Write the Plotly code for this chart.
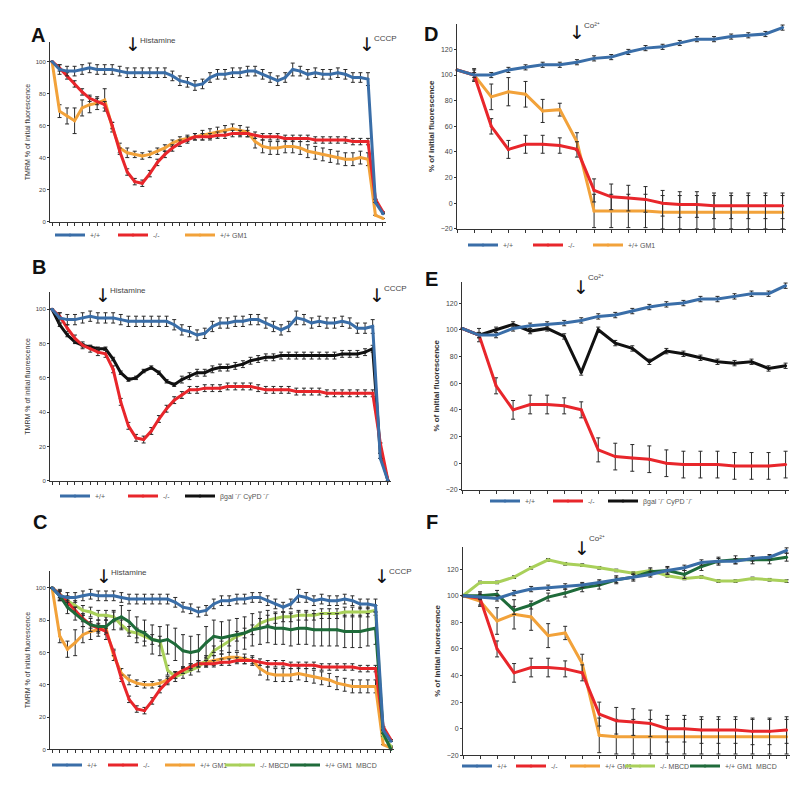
import plotly.graph_objects as go

# page has an 8px body margin: figure is drawn at (8, 8)
OFF = 8
W, H = 800 - 2 * OFF, 795 - 2 * OFF

# ---------------- DATA ----------------
# Panels A-C: TMRM time course (45 time points)
idx45 = list(range(45))
wt_A = [100, 95, 94, 94, 95, 96, 95, 95, 95, 94, 93, 93, 93, 93, 93, 93, 91, 88, 87, 85, 86, 90, 92, 92,
        93, 93, 94, 94, 92, 90, 88, 90, 95, 94, 92, 93, 92, 92, 93, 92, 90, 90, 89, 12, 5]
ko_A = [100, 96, 91, 86, 81, 77, 75, 73, 60, 44, 31, 25, 24, 30, 37, 42, 46, 49, 51, 53, 53, 53, 54, 54,
        55, 55, 55, 54, 53, 53, 53, 52, 52, 52, 52, 51, 51, 51, 51, 51, 50, 50, 50, 14, 6]
gm1_A = [100, 69, 66, 63, 71, 73, 74, 76, 59, 46, 43, 42, 41, 42, 44, 46, 49, 51, 52, 53, 54, 55, 56, 57,
         58, 57, 56, 50, 47, 46, 46, 47, 47, 46, 44, 43, 42, 41, 40, 39, 39, 40, 39, 4, 2]
wt_err = [0, 3, 3, 3, 3, 3, 3, 3, 3, 3, 3, 3, 3, 3, 3, 3, 3, 3, 3, 3, 3, 3, 3, 3,
          3, 3, 3, 3, 3, 3, 3, 3, 4, 3, 3, 3, 3, 3, 3, 3, 3, 3, 4, 0, 0]
ko_err = [0, 2, 2, 2, 2, 2, 2, 2, 2, 2, 2, 2, 2, 2, 2, 2, 2, 2, 2, 2, 2, 2, 2, 2,
          2, 2, 2, 2, 2, 2, 2, 2, 2, 2, 2, 2, 2, 2, 2, 2, 2, 2, 2, 0, 0]
gm1_err = [0, 4, 5, 8, 5, 5, 4, 7, 3, 3, 3, 2, 2, 2, 2, 2, 2, 2, 2, 2, 3, 3, 3, 3,
           3, 3, 3, 4, 4, 4, 4, 4, 4, 4, 4, 4, 4, 4, 4, 4, 4, 4, 4, 0, 0]

wt_B = [100, 95, 94, 94, 95, 96, 95, 95, 95, 94, 93, 93, 93, 93, 93, 93, 91, 88, 87, 85, 86, 90, 92, 92,
        93, 93, 94, 94, 92, 90, 88, 90, 95, 94, 92, 93, 92, 92, 93, 92, 89, 89, 90, 13, 0]
ko_B = [100, 96, 89, 83, 79, 77, 75, 74, 65, 46, 32, 25, 24, 29, 36, 42, 47, 50, 53, 53, 54, 54, 54, 55,
        55, 55, 55, 54, 53, 53, 53, 53, 52, 52, 52, 52, 51, 51, 51, 51, 51, 51, 51, 22, 0]
dko_B = [100, 91, 85, 81, 79, 78, 77, 77, 71, 63, 59, 60, 64, 66, 63, 58, 56, 59, 61, 63, 63, 65, 66, 66,
         67, 68, 70, 71, 72, 72, 73, 73, 73, 73, 73, 73, 73, 73, 74, 74, 74, 75, 77, 16, 0]
dko_err = [0, 1, 1, 1, 1, 1, 1, 1, 1, 1, 1, 1, 1, 1, 1, 1, 1, 2, 2, 2, 2, 2, 2, 2,
           2, 2, 2, 2, 2, 2, 2, 2, 2, 2, 2, 2, 2, 2, 2, 2, 2, 2, 2, 0, 0]

gm1_C = [100, 70, 62, 66, 71, 73, 74, 75, 58, 47, 43, 41, 40, 40, 41, 43, 46, 49, 51, 53, 54, 55, 56, 57,
         57, 56, 55, 50, 47, 46, 46, 46, 47, 46, 45, 44, 43, 41, 40, 39, 39, 39, 39, 3, 1]
mbcd_ko_C = [100, 96, 92, 89, 86, 85, 83, 83, 82, 77, 73, 72, 70, 68, 67, 49, 45, 47, 49, 51, 55, 61, 64, 67,
             70, 72, 74, 78, 80, 81, 82, 82, 83, 83, 83, 84, 84, 84, 85, 85, 85, 85, 86, 8, 2]
mbcd_gm1_C = [100, 95, 88, 84, 80, 77, 76, 76, 80, 82, 79, 74, 72, 68, 67, 68, 65, 61, 60, 61, 66, 70, 69, 70,
              71, 72, 74, 75, 76, 75, 75, 74, 75, 75, 74, 74, 74, 74, 73, 73, 73, 74, 75, 10, 0]
mbcd_ko_err = [0, 3, 3, 3, 3, 3, 3, 3, 3, 3, 3, 3, 3, 3, 3, 3, 3, 3, 3, 3, 3, 3, 3, 3,
               3, 3, 3, 3, 3, 3, 3, 3, 3, 3, 3, 3, 3, 3, 3, 3, 3, 3, 3, 0, 0]
mbcd_gm1_err = [0, 3, 4, 4, 4, 4, 4, 4, 6, 7, 7, 8, 8, 9, 9, 9, 10, 10, 10, 10, 10, 10, 10, 10,
                10, 10, 10, 10, 10, 10, 10, 10, 10, 10, 10, 10, 10, 10, 10, 10, 10, 10, 10, 0, 0]

# Panels D-F: Co2+ quench (20 time points)
idx20 = list(range(20))
wt_D = [104, 100, 100, 104, 106, 108, 108, 110, 113, 114, 118, 121, 122, 125, 128, 128, 130, 131, 132, 137]
ko_D = [104, 100, 60, 42, 46, 46, 45, 42, 10, 5, 4, 3, 0, -1, -1, -2, -2, -2, -2, -2]
gm1_D = [104, 100, 83, 87, 85, 72, 73, 48, -6, -6, -6, -6, -7, -7, -7, -7, -7, -7, -7, -7]
wt_D_err = [0, 2, 2, 2, 2, 2, 2, 2, 2, 2, 2, 2, 2, 2, 2, 2, 2, 2, 2, 2]
ko_D_err = [0, 5, 6, 7, 7, 7, 6, 6, 9, 10, 10, 10, 10, 10, 10, 10, 10, 10, 10, 10]
gm1_D_err = [0, 4, 10, 11, 10, 9, 5, 7, 13, 13, 13, 13, 13, 13, 13, 13, 13, 13, 13, 13]

wt_E = [101, 96, 96, 101, 103, 104, 105, 107, 110, 111, 114, 117, 119, 120, 123, 123, 125, 127, 127, 133]
ko_E = [101, 96, 58, 40, 44, 44, 43, 40, 10, 5, 4, 3, 0, -1, -1, -1, -2, -2, -2, -1]
dko_E = [101, 96, 100, 104, 99, 101, 95, 68, 100, 90, 86, 76, 84, 82, 79, 76, 75, 76, 71, 73]
dko_E_err = [0, 2, 2, 2, 2, 2, 2, 2, 2, 2, 2, 2, 2, 2, 2, 2, 2, 2, 2, 2]

wt_F = [100, 99, 98, 102, 105, 106, 107, 108, 110, 112, 114, 116, 119, 121, 125, 126, 126, 128, 129, 134]
ko_F = [100, 98, 60, 42, 46, 46, 45, 42, 11, 6, 5, 4, 0, 0, -1, -1, -1, -2, -2, -1]
gm1_F = [100, 96, 81, 86, 84, 70, 72, 49, -5, -6, -6, -6, -6, -6, -6, -6, -6, -6, -6, -6]
mbcd_ko_F = [100, 110, 110, 114, 121, 127, 124, 123, 121, 119, 117, 119, 115, 113, 114, 111, 111, 113, 112, 111]
mbcd_gm1_F = [100, 100, 101, 89, 93, 99, 102, 106, 108, 112, 114, 118, 119, 116, 122, 126, 127, 127, 127, 129]
small_err20 = [0, 1, 1, 1, 1, 1, 1, 1, 1, 1, 1, 1, 1, 1, 1, 1, 1, 1, 1, 1]
mid_err20 = [0, 2, 3, 3, 3, 3, 3, 3, 3, 3, 3, 3, 3, 3, 3, 3, 3, 3, 3, 3]

ticks_ABC = [0, 20, 40, 60, 80, 100]
ticks_DEF = [-20, 0, 20, 40, 60, 80, 100, 120]

# ---------------- STYLE ----------------
BLUE = "#3A6EA8"
RED = "#E8262B"
ORANGE = "#F2A23A"
LGREEN = "#A9D05A"
DGREEN = "#1F6B3A"
BLACK = "#111111"
ERR = "#2a2a2a"
FONT = "Liberation Sans, Arial, sans-serif"


def px_x(p):
    return (p - OFF) / W


def px_y(p):
    return 1 - (p - OFF) / H


def ydomain(px_zero, px_per_unit, rng):
    bottom = px_zero + (0 - rng[0]) * px_per_unit
    top = px_zero - rng[1] * px_per_unit
    return [px_y(bottom), px_y(top)]


def xdomain(p0, p1):
    return [px_x(p0), px_x(p1)]


panels = {
    # (x domain px, x range, y zero px, px per unit, y range) in reference page pixels
    1: ((50, 386), [-0.27, 44.4], 222.5, 1.608, [0, 112]),      # A
    2: ((50, 391), [-0.27, 44.4], 482.5, 1.72, [0, 110]),       # B
    3: ((50, 394), [-0.27, 44.4], 752.3, 1.623, [0, 110.5]),    # C
    4: ((457, 786), [0, 19.2], 204.0, 1.287, [-20, 140]),       # D
    5: ((462, 789), [0, 19.2], 465.0, 1.34, [-20, 136]),        # E
    6: ((463, 790), [0, 19.2], 731.5, 1.335, [-20, 137]),       # F
}

fig = go.Figure()


def add(p, x, y, err, color, name, lw_legend, rank):
    sfx = "" if p == 1 else str(p)
    fig.add_trace(go.Scatter(
        x=x, y=y, mode="lines+markers", name=name,
        line=dict(color=color, width=3),
        marker=dict(size=3, color=color),
        error_y=dict(type="data", array=err, color=ERR, thickness=1, width=2),
        xaxis="x" + sfx, yaxis="y" + sfx,
        legend="legend" + sfx, legendwidth=lw_legend, legendrank=rank,
        cliponaxis=False,
    ))


BGAL = "βgal ⁻/⁻ CyPD ⁻/⁻"
# A
add(1, idx45, gm1_A, gm1_err, ORANGE, "+/+ GM1", 30, 3)
add(1, idx45, ko_A, ko_err, RED, "-/-", 22, 2)
add(1, idx45, wt_A, wt_err, BLUE, "+/+", 18, 1)
# B
add(2, idx45, dko_B, dko_err, BLACK, BGAL, 60, 3)
add(2, idx45, ko_B, ko_err, RED, "-/-", 12, 2)
add(2, idx45, wt_B, wt_err, BLUE, "+/+", 23, 1)
# C
add(3, idx45, gm1_C, gm1_err, ORANGE, "+/+ GM1", 15, 3)
add(3, idx45, mbcd_ko_C, mbcd_ko_err, LGREEN, "-/- MBCD", 20, 4)
add(3, idx45, ko_A, ko_err, RED, "-/-", 12, 2)
add(3, idx45, mbcd_gm1_C, mbcd_gm1_err, DGREEN, "+/+ GM1  MBCD", 60, 5)
add(3, idx45, wt_A, wt_err, BLUE, "+/+", 11, 1)
# D
add(4, idx20, gm1_D, gm1_D_err, ORANGE, "+/+ GM1", 30, 3)
add(4, idx20, ko_D, ko_D_err, RED, "-/-", 15, 2)
add(4, idx20, wt_D, wt_D_err, BLUE, "+/+", 20, 1)
# E
add(5, idx20, dko_E, dko_E_err, BLACK, BGAL, 60, 3)
add(5, idx20, ko_E, ko_D_err, RED, "-/-", 10, 2)
add(5, idx20, wt_E, wt_D_err, BLUE, "+/+", 18, 1)
# F
add(6, idx20, gm1_F, gm1_D_err, ORANGE, "+/+ GM1", 10, 3)
add(6, idx20, ko_F, ko_D_err, RED, "-/-", 9, 2)
add(6, idx20, mbcd_ko_F, small_err20, LGREEN, "-/- MBCD", 20, 4)
add(6, idx20, mbcd_gm1_F, mid_err20, DGREEN, "+/+ GM1  MBCD", 60, 5)
add(6, idx20, wt_F, wt_D_err, BLUE, "+/+", 9, 1)

layout = dict(
    width=W, height=H, margin=dict(l=0, r=0, t=0, b=0),
    paper_bgcolor="white", plot_bgcolor="white",
    font=dict(family=FONT, color="#333"),
    showlegend=True,
)

# legend left edge / centre line, reference pixels
legend_pos = {1: (50, 236), 2: (55, 498), 3: (47, 768), 4: (463, 246), 5: (485, 503), 6: (457, 769)}

for p, (xd, xr, y0, ppu, yr) in panels.items():
    sfx = "" if p == 1 else str(p)
    is_left = p <= 3
    layout["xaxis" + sfx] = dict(
        domain=xdomain(*xd), range=xr, anchor="y" + sfx,
        showline=True, linecolor="#333", linewidth=1,
        ticks="outside", ticklen=3, tickcolor="#333", tickwidth=1,
        tick0=0, dtick=1, showticklabels=False, showgrid=False, zeroline=False,
    )
    layout["yaxis" + sfx] = dict(
        domain=ydomain(y0, ppu, yr), range=yr, anchor="x" + sfx,
        showline=True, linecolor="#333", linewidth=1,
        ticks="outside", ticklen=2, tickcolor="#333",
        tickvals=ticks_ABC if is_left else ticks_DEF,
        tickfont=dict(size=6 if is_left else 7, color="#444"),
        showgrid=False, zeroline=False,
        title=dict(
            text="TMRM % of initial fluorescence" if is_left else "<b>% of initial fluorescence</b>",
            font=dict(size=7 if is_left else 8, color="#333"), standoff=4),
    )
    lx, ly = legend_pos[p]
    layout["legend" + sfx] = dict(
        orientation="h", x=px_x(lx), y=px_y(ly), xanchor="left", yanchor="middle",
        bgcolor="rgba(0,0,0,0)", font=dict(size=7, color="#555"),
        itemwidth=30, tracegroupgap=0, borderwidth=0,
    )

fig.update_layout(**layout)

# panel letters
letters = [("A", 29, 22), ("B", 30, 268), ("C", 31, 537), ("D", 431, 21), ("E", 431, 267), ("F", 432, 537)]
for t, x, y in letters:
    fig.add_annotation(text="<b>%s</b>" % t, x=px_x(x), y=px_y(y), xref="paper", yref="paper",
                       showarrow=False, font=dict(size=20, color="#111", family=FONT))


def arrow(p, xval, mid_px, label, label_px, size=8):
    sfx = "" if p == 1 else str(p)
    fig.add_annotation(x=xval, y=px_y(mid_px), xref="x" + sfx, yref="paper",
                       text="↓", showarrow=False, xanchor="center", yanchor="middle",
                       font=dict(size=19, color="#111", family="DejaVu Sans"))
    fig.add_annotation(x=xval, y=px_y(label_px), xref="x" + sfx, yref="paper",
                       xshift=5, text=label, showarrow=False, xanchor="left", yanchor="middle",
                       font=dict(size=size, color="#444", family=FONT))


CO = "Co²⁺"
arrow(1, 10.8, 44, "Histamine", 41)
arrow(1, 41.9, 44, "CCCP", 39)
arrow(2, 6.7, 296, "Histamine", 292)
arrow(2, 42.5, 296, "CCCP", 290)
arrow(3, 6.8, 578, "Histamine", 575)
arrow(3, 42.8, 578, "CCCP", 574)
arrow(4, 7.0, 32, CO, 26)
arrow(5, 7.0, 288, CO, 279)
arrow(6, 7.0, 550, CO, 541)

fig.write_html("out.html")
